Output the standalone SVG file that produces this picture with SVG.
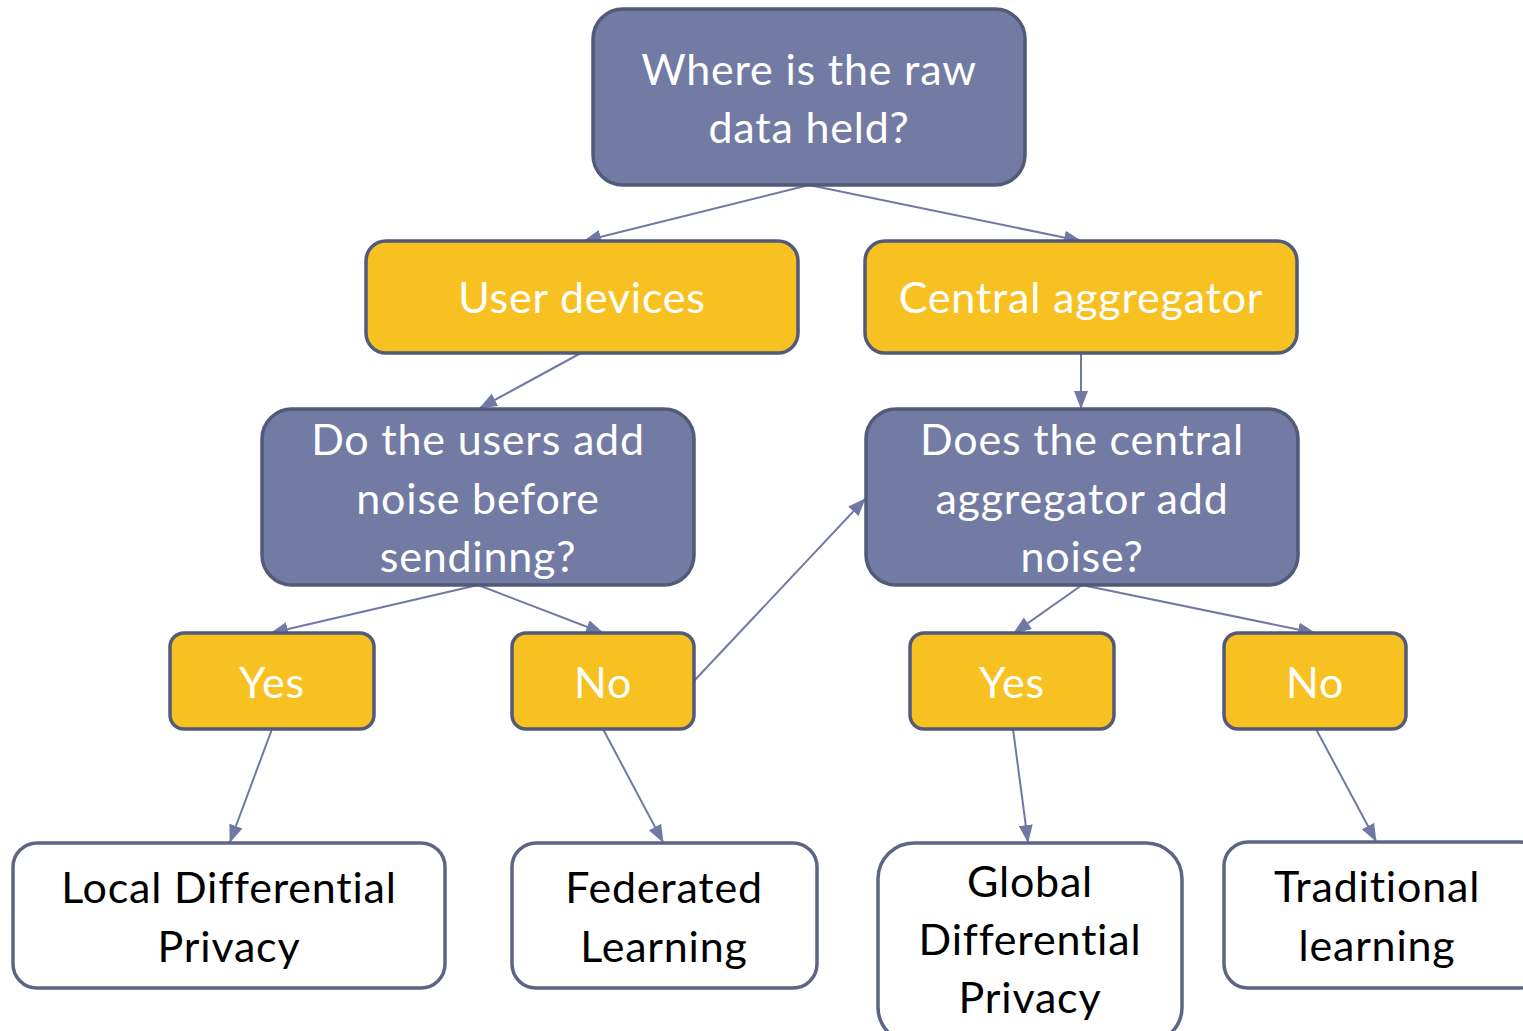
<svg xmlns="http://www.w3.org/2000/svg" width="1523" height="1031" viewBox="0 0 1523 1031">
  <style>
    .q rect { fill: #717BA3; stroke: #525A7A; stroke-width: 3.5; }
    .a rect { fill: #F7C221; stroke: #525A7A; stroke-width: 3.5; }
    .r rect { fill: #FFFFFF; stroke: #5D6485; stroke-width: 3.5; }
    text { font-family: "Lato", "Open Sans", "Liberation Sans", sans-serif; font-size: 43px; letter-spacing: 0.8px; text-anchor: middle; }
    .q text, .a text { fill: #FFFFFF; }
    .r text { fill: #000000; }
    .edges line { stroke: #7079A5; stroke-width: 2; marker-end: url(#arrow); }
  </style>
  <defs>
    <marker id="arrow" markerUnits="userSpaceOnUse" markerWidth="18" markerHeight="14" refX="17" refY="7" orient="auto">
      <path d="M0,0 L18,7 L0,14 Z" fill="#7079A5"/>
    </marker>
  </defs>
  <rect width="1523" height="1031" fill="#FFFFFF"/>

  <g class="edges">
    <line x1="809" y1="185" x2="584" y2="241"/>
    <line x1="809" y1="185" x2="1081" y2="241"/>
    <line x1="581" y1="353" x2="480" y2="408"/>
    <line x1="1081" y1="353" x2="1081" y2="408"/>
    <line x1="478" y1="585" x2="271" y2="633"/>
    <line x1="478" y1="585" x2="603" y2="633"/>
    <line x1="694" y1="681" x2="865" y2="499"/>
    <line x1="1082" y1="585" x2="1014" y2="633"/>
    <line x1="1082" y1="585" x2="1315" y2="633"/>
    <line x1="272" y1="729" x2="230" y2="842"/>
    <line x1="603" y1="729" x2="663" y2="842"/>
    <line x1="1013" y1="729" x2="1028" y2="842"/>
    <line x1="1316" y1="729" x2="1376" y2="841"/>
  </g>

  <g id="root" class="q">
    <rect x="593" y="9" width="432" height="176" rx="30"/>
    <text x="809" y="85">Where is the raw</text>
    <text x="809" y="143">data held?</text>
  </g>
  <g id="user-devices" class="a">
    <rect x="366" y="241" width="432" height="112" rx="20"/>
    <text x="582" y="313">User devices</text>
  </g>
  <g id="central-aggregator" class="a">
    <rect x="865" y="241" width="432" height="112" rx="20"/>
    <text x="1081" y="313">Central aggregator</text>
  </g>
  <g id="users-add-noise" class="q">
    <rect x="262" y="409" width="432" height="176" rx="30"/>
    <text x="478" y="455">Do the users add</text>
    <text x="478" y="514">noise before</text>
    <text x="478" y="572">sendinng?</text>
  </g>
  <g id="central-add-noise" class="q">
    <rect x="866" y="409" width="432" height="176" rx="30"/>
    <text x="1082" y="455">Does the central</text>
    <text x="1082" y="514">aggregator add</text>
    <text x="1082" y="572">noise?</text>
  </g>
  <g id="yes-users" class="a">
    <rect x="170" y="633" width="204" height="96" rx="14"/>
    <text x="272" y="698">Yes</text>
  </g>
  <g id="no-users" class="a">
    <rect x="512" y="633" width="182" height="96" rx="14"/>
    <text x="603" y="698">No</text>
  </g>
  <g id="yes-central" class="a">
    <rect x="910" y="633" width="204" height="96" rx="14"/>
    <text x="1012" y="698">Yes</text>
  </g>
  <g id="no-central" class="a">
    <rect x="1224" y="633" width="182" height="96" rx="14"/>
    <text x="1315" y="698">No</text>
  </g>
  <g id="local-dp" class="r">
    <rect x="13" y="843" width="432" height="145" rx="24"/>
    <text x="229" y="903">Local Differential</text>
    <text x="229" y="962">Privacy</text>
  </g>
  <g id="federated" class="r">
    <rect x="512" y="843" width="305" height="145" rx="24"/>
    <text x="664" y="903">Federated</text>
    <text x="664" y="962">Learning</text>
  </g>
  <g id="global-dp" class="r">
    <rect x="878" y="843" width="304" height="200" rx="36"/>
    <text x="1030" y="897">Global</text>
    <text x="1030" y="955">Differential</text>
    <text x="1030" y="1013">Privacy</text>
  </g>
  <g id="traditional" class="r">
    <rect x="1224" y="842" width="320" height="146" rx="24"/>
    <text x="1377" y="902">Traditional</text>
    <text x="1377" y="961">learning</text>
  </g>
</svg>
